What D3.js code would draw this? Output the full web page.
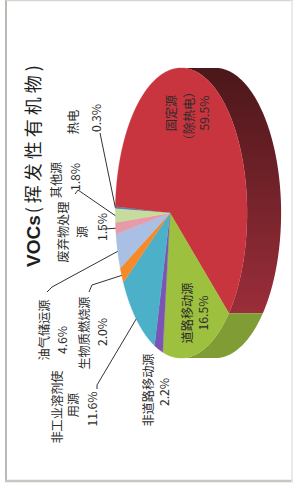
<!DOCTYPE html>
<html><head><meta charset="utf-8">
<script src="https://cdn.jsdelivr.net/npm/d3@7"></script>
<style>html,body{margin:0;padding:0;background:#fff;} svg{display:block;}</style>
</head><body>
<script>
// ---- data ----
const categories = ["热电","固定源（除热电）","道路移动源","非道路移动源","非工业溶剂使用源","生物质燃烧源","油气储运源","废弃物处理源","其他源"];
const values = [0.3, 59.5, 16.5, 2.2, 11.6, 2.0, 4.6, 1.5, 1.8];
const nameLines = [["热电"],["固定源","（除热电）"],["道路移动源"],["非道路移动源"],["非工业溶剂使","用源"],["生物质燃烧源"],["油气储运源"],["废弃物处理","源"],["其他源"]];
const titleMain = "VOCs";
const titleSub = "(挥发性有机物)";

// ---- styles ----
const faceColors = ["#4f81bd","#c9353f","#9dc03e","#7b55b5","#4bb0c8","#f58a2a","#a9bfe3","#e89aa8","#c6dc9c"];
const sideColors = ["#2f4d72","url(#redSide)","#7f9d34","#4a3370","#2d6a78","#94531a","#6a7b93","#8c5c64","#7a8a5e"];

// label layout (screen coords: centre y, baseline x) per line
const labelLayout = [
  [[122,78],[118,101]],
  [[113,176],[116,194],[113,209]],
  [[313,192],[313,208]],
  [[390,153],[392,169]],
  [[407,62],[405,78],[409,97]],
  [[333,89],[332,107]],
  [[330,49],[340,67]],
  [[232,68],[232,87],[227,107]],
  [[180,61],[177,80]]
];
// leader-line start points (screen coords); end is on the slice edge
const leaders = [
  {i:0, pts:[[100,133]]},
  {i:8, pts:[[75,194],[78,190]]},
  {i:7, pts:[[103,229]]},
  {i:6, pts:[[47,292],[52,287]]},
  {i:5, pts:[[89,292],[92,285]]},
  {i:4, pts:[[97,389],[97,385]]}
];

const W=293, H=486;
const svg = d3.select("body").append("svg").attr("width",W).attr("height",H);
// frame
svg.append("rect").attr("x",0).attr("y",0).attr("width",W).attr("height",H).attr("fill","#fff");
svg.append("line").attr("x1",6).attr("y1",0).attr("x2",6).attr("y2",482).attr("stroke","#bdb8b3").attr("stroke-width",2);
svg.append("line").attr("x1",6).attr("y1",0.5).attr("x2",W).attr("y2",0.5).attr("stroke","#d8d4d0").attr("stroke-width",1.5);
svg.append("line").attr("x1",5).attr("y1",481).attr("x2",W).attr("y2",481).attr("stroke","#c9c5c1").attr("stroke-width",2.5);
svg.append("line").attr("x1",292).attr("y1",0).attr("x2",292).attr("y2",482).attr("stroke","#e6e3e0").attr("stroke-width",1.5);

const defs = svg.append("defs");
const grad = defs.append("linearGradient").attr("id","redSide").attr("gradientUnits","userSpaceOnUse")
  .attr("x1",420).attr("y1",0).attr("x2",175).attr("y2",0);
grad.append("stop").attr("offset",0).attr("stop-color","#4a1719");
grad.append("stop").attr("offset",1).attr("stop-color","#9a2d3a");

// local (unrotated) frame: 486 wide, 293 tall
const g = svg.append("g").attr("transform",`translate(0,${H}) rotate(-90)`);
const toLocal = ([x,y]) => [H - y, x];

const cu=273, cv=170, rx=143, ry=64, p=0.17, depth=34, rot=2*Math.PI/180;
function proj(a, dz=0){ const x=Math.sin(a), y=-Math.cos(a), w=1-p*y; return [cu+rx*x/w, cv+ry*y/w+dz]; }
function arcPts(a0,a1,dz){ const n=Math.max(2,Math.ceil((a1-a0)/(Math.PI/360))); return d3.range(n+1).map(i=>proj(a0+(a1-a0)*i/n,dz)); }

const arcs = d3.pie().sort(null).value(d=>d).startAngle(rot).endAngle(rot+2*Math.PI)(values);
const line = d3.line();
const vis0 = Math.acos(-p), vis1 = 2*Math.PI - Math.acos(-p);

// side walls
arcs.forEach((a,i)=>{
  const s=Math.max(a.startAngle,vis0), e=Math.min(a.endAngle,vis1);
  if(e<=s) return;
  const top=arcPts(s,e,0), bot=arcPts(s,e,depth).reverse();
  g.append("path").attr("d", line(top.concat(bot))+"Z").attr("fill",sideColors[i]);
});
// faces
arcs.forEach((a,i)=>{
  const pts=[[cu,cv]].concat(arcPts(a.startAngle,a.endAngle,0));
  g.append("path").attr("d", line(pts)+"Z").attr("fill",faceColors[i]).attr("stroke",faceColors[i]).attr("stroke-width",0.3);
});

// leader lines
leaders.forEach(L=>{
  const a=arcs[L.i], mid=(a.startAngle+a.endAngle)/2;
  const pts=L.pts.map(toLocal).concat([proj(mid,0)]);
  g.append("path").attr("d",line(pts)).attr("fill","none").attr("stroke","#333").attr("stroke-width",1);
});

// labels
const fmt = d3.format(".1f");
categories.forEach((c,i)=>{
  const lines = nameLines[i].concat([fmt(values[i])+"%"]);
  lines.forEach((t,j)=>{
    const [u,v]=toLocal([labelLayout[i][j][1], labelLayout[i][j][0]]);
    g.append("text").attr("x",u).attr("y",v).attr("text-anchor","middle")
      .attr("font-family","'Noto Sans CJK SC','Noto Sans',sans-serif").attr("font-size",12.2)
      .attr("fill","#2b2b2b").text(t);
  });
});

// title
const title = g.append("text").attr("x",H-267).attr("y",40).attr("fill","#1e1e1e");
title.append("tspan").attr("font-family","'Liberation Sans',Arial,sans-serif").attr("font-weight","bold").attr("font-size",19).text(titleMain);
title.append("tspan").attr("font-family","'Noto Sans CJK SC',sans-serif").attr("font-size",18).attr("letter-spacing",4).attr("dx",2).text(titleSub);
</script>
</body></html>
